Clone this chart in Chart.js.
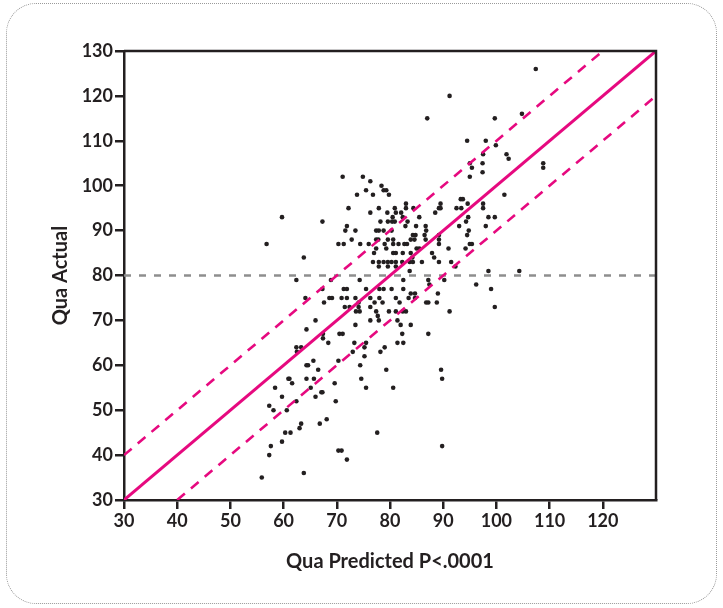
<!DOCTYPE html>
<html>
<head>
<meta charset="utf-8">
<script src="https://cdn.jsdelivr.net/npm/chart.js@4/dist/chart.umd.min.js"></script>
<style>
  html, body { margin: 0; padding: 0; background: #ffffff; }
  #wrap { position: relative; width: 723px; height: 608px; }
  #frame { position: absolute; left: 6px; top: 3px; width: 709px; height: 599px;
           border: 1px dotted #9a9a9a; border-radius: 30px; }
  canvas { position: absolute; left: 0; top: 0; }
</style>
</head>
<body>
<div id="wrap">
  <div id="frame"></div>
  <canvas id="c" width="723" height="608"></canvas>
</div>
<script>
// Observed points (Qua Predicted, Qua Actual), grouped by rows of actual value
const predicted = [
  107.4, 91.2, 104.8, 99.7, 87.0, 94.5, 98.0, 99.9, 97.5, 101.9, 102.3,
  95.0, 97.4, 108.8, 95.4, 108.8, 97.4,
  71.1, 74.9, 95.0, 76.3, 78.4, 75.5, 78.8, 79.3,
  73.8, 76.8, 79.8, 101.5, 93.3, 93.7,
  83.0, 89.5, 94.6, 97.5,
  72.2, 77.9, 80.9, 83.0, 84.4, 89.2, 89.5, 92.5, 93.4, 97.5,
  76.3, 79.5, 81.1, 82.1, 88.5,
  59.7, 80.5, 82.4, 85.5, 94.7, 98.5, 99.7,
  67.3, 78.2, 79.6, 80.4, 80.9, 83.3, 94.3,
  71.9, 82.9, 84.9, 86.7, 93.0, 98.0,
  71.6, 73.5, 77.4, 77.9, 78.8, 80.3, 86.8, 94.8,
  84.3, 84.8, 86.5, 89.2, 94.5,
  72.8, 77.4, 77.8, 79.6, 80.6, 83.9, 84.6, 86.7, 89.2,
  56.8, 70.3, 71.3, 74.4, 76.0, 79.0, 80.6, 81.6, 82.7, 83.2, 89.2, 95.0, 95.4,
  77.4, 79.3, 85.0, 85.5, 91.0, 94.2,
  77.0, 80.6, 81.1, 82.4, 83.9, 87.9,
  63.8, 84.2, 88.3,
  76.8, 77.9, 78.8, 79.6, 80.3, 81.1, 82.3, 83.7, 84.3, 86.0, 89.2, 91.5,
  77.9, 79.6, 81.1, 92.3,
  83.7, 98.5, 104.3,
  62.4, 68.9, 74.3, 82.5, 87.2, 90.2,
  87.4, 96.2,
  67.3, 71.3, 71.9, 75.5, 78.0, 78.8, 80.3, 82.5, 99.0,
  83.9, 84.7, 89.0,
  64.1, 68.6, 69.1, 70.9, 71.9, 73.5, 76.3, 78.0, 81.1, 83.5, 84.7,
  67.6, 74.1, 77.1, 78.6, 81.8, 86.8, 87.2, 88.8,
  71.5, 72.4, 74.1, 76.3, 99.7,
  73.6, 74.3, 77.4, 79.8, 81.1, 82.4, 83.0, 91.2,
  77.7, 66.0, 76.3, 77.9, 81.4,
  73.5, 82.0, 83.9, 64.3,
  67.4, 70.5, 71.1, 82.3, 87.2, 67.4,
  73.3, 75.5, 81.4, 82.5, 68.4,
  62.4, 63.3, 79.0, 75.2,
  62.5, 73.0, 78.2, 75.2, 65.6, 70.3,
  64.3, 64.6, 74.4, 66.5, 79.3, 89.6,
  60.9, 61.1, 64.3, 65.7, 74.6, 89.8,
  61.6, 69.6, 58.4, 65.1, 75.5, 80.6,
  67.1, 67.3, 59.7, 66.0, 62.4, 69.8,
  57.3, 58.1, 60.6, 68.1, 63.3, 66.8, 63.0,
  60.3, 61.3, 77.6, 59.7, 57.6, 89.8,
  70.3, 70.9, 57.3, 71.9, 63.8, 55.9
];
const actual = [
  126, 120, 116, 115, 115, 110, 110, 109, 107, 107, 106,
  105, 105, 105, 104, 104, 103,
  102, 102, 102, 101, 100, 99, 99, 99,
  98, 98, 98, 98, 97, 97,
  96, 96, 96, 96,
  95, 95, 95, 95, 95, 95, 95, 95, 95, 95,
  94, 94, 94, 94, 94,
  93, 93, 93, 93, 93, 93, 93,
  92, 92, 92, 92, 92, 92, 92,
  91, 91, 91, 91, 91, 91,
  90, 90, 90, 90, 90, 90, 90, 90,
  89, 89, 89, 89, 89,
  88, 88, 88, 88, 88, 88, 88, 88, 88,
  87, 87, 87, 87, 87, 87, 87, 87, 87, 87, 87, 87, 87,
  86, 86, 86, 86, 86, 86,
  85, 85, 85, 85, 85, 85,
  84, 84, 84,
  83, 83, 83, 83, 83, 83, 83, 83, 83, 83, 83, 83,
  82, 82, 82, 82,
  81, 81, 81,
  79, 79, 79, 79, 79, 79,
  78, 78,
  77, 77, 77, 77, 77, 77, 77, 77, 77,
  76, 76, 76,
  75, 75, 75, 75, 75, 75, 75, 75, 75, 75, 75,
  74, 74, 74, 74, 74, 74, 74, 74,
  73, 73, 73, 73, 73,
  72, 72, 72, 72, 72, 72, 72, 72,
  71, 70, 70, 70, 70,
  69, 69, 69, 68,
  67, 67, 67, 67, 67, 66,
  65, 65, 65, 65, 65,
  64, 64, 64, 64,
  63, 63, 63, 62, 61, 61,
  60, 60, 60, 59, 59, 59,
  57, 57, 57, 57, 57, 57,
  56, 56, 55, 55, 55, 55,
  54, 54, 53, 53, 52, 52,
  51, 50, 50, 48, 47, 47, 46,
  45, 45, 45, 43, 42, 42,
  41, 41, 40, 39, 36, 35
];

// Reference lines (endpoints in data units)
const identityX = [30, 130], identityY = [30, 130];
const upperX = [30, 120],    upperY = [40, 130];
const lowerX = [40, 130],    lowerY = [30, 120];
const meanX = [30, 130],     meanY = [80, 80];

// Axis settings
const axisMin = 30, axisMax = 130, axisStep = 10;
const xLabelMax = 120;
const xTitle = 'Qua Predicted P<.0001';
const yTitle = 'Qua Actual';

const pts = (xs, ys) => xs.map((x, i) => ({ x: x, y: ys[i] }));

const INK = '#231f20';
const PINK = '#e6097f';
const tickFont = { family: 'Lato', size: 18, weight: 'bold' };
const titleFont = { family: 'Lato', size: 20, weight: 'bold' };

const boxPlugin = {
  id: 'box',
  afterDatasetsDraw(chart) {
    const { ctx, chartArea: a } = chart;
    ctx.save();
    ctx.strokeStyle = INK;
    ctx.lineWidth = 2.5;
    ctx.beginPath();
    ctx.moveTo(a.left, a.top);
    ctx.lineTo(a.right, a.top);
    ctx.lineTo(a.right, a.bottom);
    ctx.stroke();
    ctx.restore();
  }
};

new Chart(document.getElementById('c'), {
  type: 'scatter',
  data: {
    datasets: [
      { type: 'line', data: pts(identityX, identityY), borderColor: PINK, borderWidth: 3,
        pointRadius: 0, fill: false, order: 0 },
      { type: 'line', data: pts(upperX, upperY), borderColor: PINK, borderWidth: 2.6,
        borderDash: [10, 8], pointRadius: 0, fill: false, order: 0 },
      { type: 'line', data: pts(lowerX, lowerY), borderColor: PINK, borderWidth: 2.6,
        borderDash: [10, 8], pointRadius: 0, fill: false, order: 0 },
      { type: 'line', data: pts(meanX, meanY), borderColor: '#8e8e8e', borderWidth: 2.5,
        borderDash: [7, 8], pointRadius: 0, fill: false, order: 1 },
      { type: 'scatter', data: pts(predicted, actual), backgroundColor: INK, borderColor: INK,
        borderWidth: 0, pointRadius: 2.3, pointStyle: 'circle', order: 2 }
    ]
  },
  options: {
    responsive: false,
    animation: false,
    devicePixelRatio: 1,
    layout: { padding: { top: 51, right: 67, left: 0, bottom: 0 } },
    plugins: { legend: { display: false }, tooltip: { enabled: false } },
    scales: {
      x: {
        type: 'linear', min: axisMin, max: axisMax,
        afterFit(s) { s.height = 108; },
        ticks: {
          stepSize: axisStep, color: INK, font: tickFont, padding: 1,
          maxRotation: 0, autoSkip: false,
          callback: v => (v <= xLabelMax ? String(v) : null)
        },
        grid: { drawOnChartArea: false, drawTicks: true, tickLength: 9, color: INK, lineWidth: 2.5 },
        border: { display: true, color: INK, width: 2.5 },
        title: { display: true, text: xTitle, color: INK, font: titleFont,
                 padding: { top: 0, bottom: 34 } }
      },
      y: {
        type: 'linear', min: axisMin, max: axisMax,
        afterFit(s) { s.width = 124; },
        ticks: { stepSize: axisStep, color: INK, font: tickFont, padding: 2, autoSkip: false },
        grid: { drawOnChartArea: false, drawTicks: true, tickLength: 9, color: INK, lineWidth: 2.5 },
        border: { display: true, color: INK, width: 2.5 },
        title: { display: true, text: yTitle, color: INK, font: titleFont,
                 padding: { top: 49, bottom: 0 } }
      }
    }
  },
  plugins: [boxPlugin]
});
</script>
</body>
</html>
